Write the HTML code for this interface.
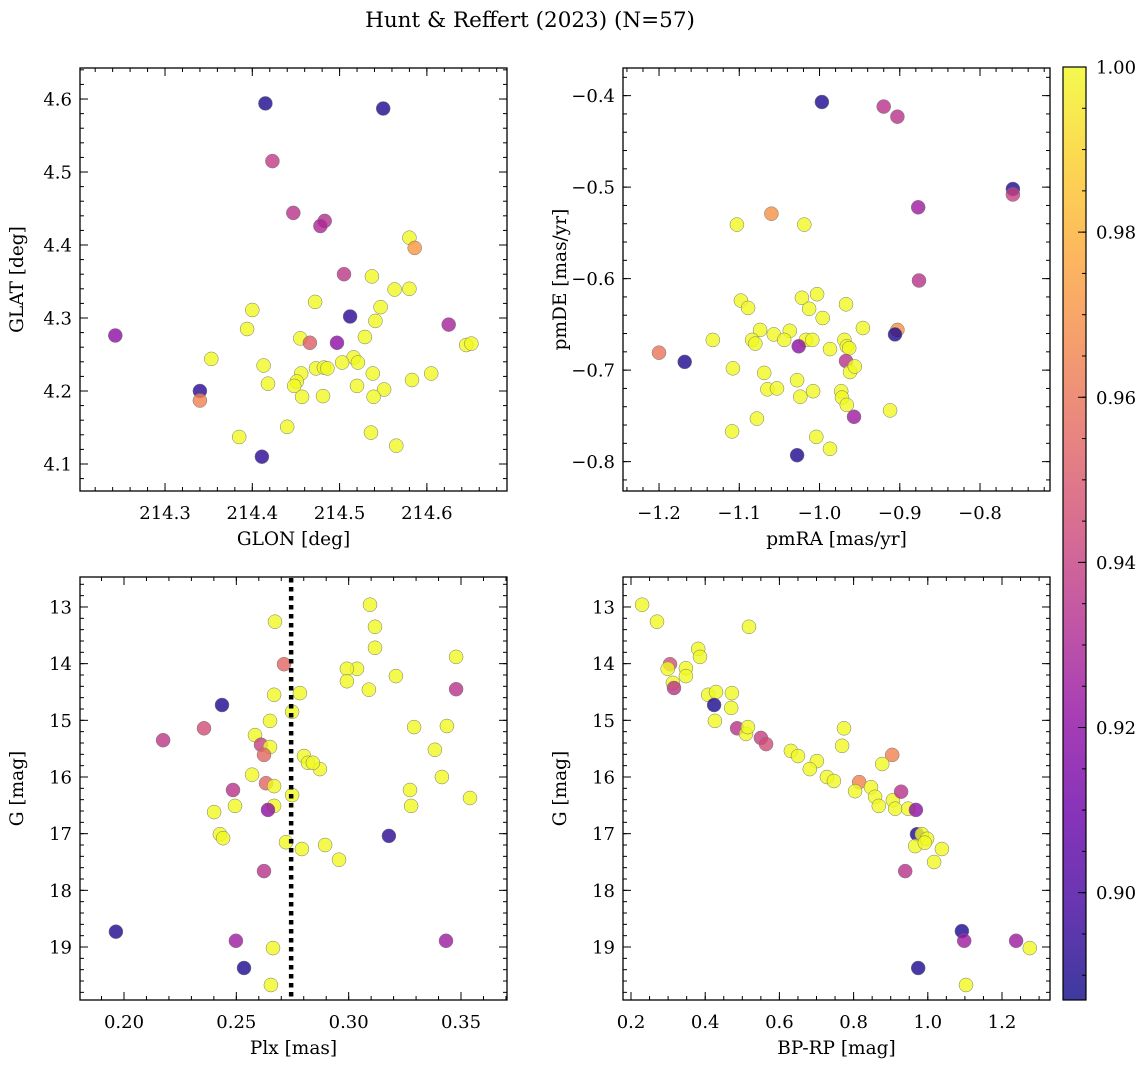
<!DOCTYPE html>
<html><head><meta charset="utf-8">
<style>
html,body{margin:0;padding:0;background:#fff;}
svg{display:block;font-family:"DejaVu Serif","Liberation Serif",serif;}
</style></head>
<body>
<svg id="fig" width="1148" height="1067" viewBox="0 0 1148 1067" xmlns="http://www.w3.org/2000/svg">
<text x="530" y="27" font-size="21.5" text-anchor="middle">Hunt &amp; Reffert (2023) (N=57)</text>
</svg>
<script>
// ---- Data: top-left (GLON vs GLAT) ----
const glonTL = [214.243,214.415,214.550,214.423,214.447,214.483,214.478,214.580,214.586,214.505,214.537,214.563,214.580,214.472,214.547,214.512,214.541,214.400,214.625,214.394,214.529,214.455,214.466,214.497,214.645,214.651,214.353,214.516,214.521,214.413,214.503,214.473,214.482,214.486,214.538,214.456,214.451,214.605,214.448,214.418,214.520,214.551,214.340,214.539,214.457,214.481,214.340,214.440,214.385,214.536,214.565,214.411,214.583];
const glatTL = [4.276,4.594,4.587,4.515,4.444,4.433,4.426,4.410,4.396,4.360,4.357,4.339,4.340,4.322,4.315,4.302,4.296,4.311,4.291,4.285,4.274,4.272,4.266,4.266,4.263,4.265,4.244,4.246,4.239,4.235,4.239,4.231,4.232,4.231,4.224,4.224,4.213,4.224,4.207,4.210,4.207,4.202,4.200,4.192,4.192,4.193,4.187,4.151,4.137,4.143,4.125,4.110,4.215];
const probTL = [0.920,0.890,0.890,0.938,0.935,0.933,0.930,1,0.972,0.937,1,1,1,1,1,0.893,1,1,0.928,1,1,1,0.952,0.920,1,1,1,1,1,1,1,1,1,1,1,1,1,1,1,1,1,1,0.893,1,1,1,0.965,1,1,1,1,0.893,1];
// ---- Data: top-right (pmRA vs pmDE) ----
const pmraTR = [-0.997,-0.920,-0.903,-0.759,-0.759,-0.877,-0.876,-1.103,-1.060,-1.019,-1.200,-1.168,-1.133,-1.108,-1.098,-1.089,-1.022,-1.003,-0.967,-0.996,-1.013,-1.074,-1.057,-1.037,-1.017,-1.009,-1.044,-1.026,-1.084,-1.080,-0.987,-0.969,-0.966,-0.963,-0.946,-0.903,-0.906,-0.967,-0.962,-0.956,-1.069,-1.028,-1.065,-1.053,-1.008,-0.973,-0.972,-0.966,-1.078,-1.024,-0.957,-0.912,-1.109,-1.004,-0.987,-1.028];
const pmdeTR = [-0.407,-0.412,-0.423,-0.502,-0.508,-0.522,-0.602,-0.541,-0.529,-0.541,-0.681,-0.691,-0.667,-0.698,-0.624,-0.632,-0.621,-0.617,-0.628,-0.643,-0.633,-0.656,-0.661,-0.657,-0.667,-0.667,-0.667,-0.674,-0.667,-0.671,-0.677,-0.667,-0.674,-0.676,-0.654,-0.656,-0.661,-0.690,-0.702,-0.696,-0.703,-0.711,-0.721,-0.720,-0.723,-0.723,-0.730,-0.738,-0.753,-0.729,-0.751,-0.744,-0.767,-0.773,-0.786,-0.793];
const probTR = [0.890,0.935,0.935,0.890,0.940,0.925,0.935,1,0.970,1,0.960,0.890,1,1,1,1,1,1,1,1,1,1,1,1,1,1,1,0.920,1,1,1,1,1,1,1,0.970,0.890,0.935,1,1,1,1,1,1,1,1,1,1,1,1,0.925,1,1,1,1,0.890];
// ---- Data: bottom-left (Plx vs G) ----
const plxBL = [0.1964,0.2174,0.2356,0.2436,0.2672,0.2712,0.2668,0.2783,0.2748,0.2650,0.2583,0.2610,0.2650,0.2623,0.2801,0.2570,0.2632,0.2668,0.2485,0.2748,0.2872,0.2819,0.2841,0.2668,0.2494,0.2641,0.2401,0.2427,0.2441,0.2721,0.2792,0.2895,0.2957,0.3179,0.2623,0.2498,0.2534,0.2663,0.2654,0.3433,0.3095,0.3117,0.3117,0.3037,0.2992,0.2992,0.3090,0.3210,0.3478,0.3478,0.3291,0.3437,0.3384,0.3415,0.3273,0.3278,0.3540];
const gBL = [18.73,15.35,15.14,14.73,13.26,14.01,14.55,14.52,14.85,15.01,15.26,15.43,15.47,15.61,15.63,15.96,16.11,16.16,16.23,16.32,15.86,15.75,15.75,16.51,16.51,16.58,16.62,17.01,17.08,17.15,17.27,17.20,17.46,17.04,17.66,18.89,19.37,19.02,19.67,18.89,12.96,13.35,13.72,14.09,14.09,14.31,14.46,14.22,13.88,14.45,15.12,15.10,15.52,16.00,16.23,16.51,16.37];
const probBL = [0.890,0.937,0.945,0.890,1,0.955,1,1,1,1,1,0.940,1,0.955,1,1,0.955,1,0.935,1,1,1,1,1,1,0.920,1,1,1,1,1,1,1,0.893,0.935,0.925,0.890,1,1,0.925,1,1,1,1,1,1,1,1,1,0.935,1,1,1,1,1,1,1];
const plxRef = [0.2744];
// ---- Data: bottom-right (BP-RP vs G) ----
const bprpBR = [0.230,0.270,0.518,0.305,0.299,0.313,0.316,0.348,0.348,0.381,0.386,0.408,0.429,0.424,0.426,0.470,0.472,0.486,0.510,0.515,0.550,0.564,0.631,0.650,0.701,0.682,0.728,0.747,0.769,0.774,0.904,0.815,0.804,0.847,0.858,0.877,0.868,0.906,0.912,0.928,0.947,0.968,0.971,0.966,0.984,0.998,0.992,1.038,1.017,0.939,0.974,1.092,1.098,1.238,1.275,1.103];
const gBR = [12.96,13.26,13.35,14.01,14.09,14.34,14.43,14.08,14.22,13.74,13.88,14.55,14.50,14.73,15.01,14.78,14.52,15.14,15.24,15.12,15.31,15.42,15.54,15.63,15.72,15.86,16.00,16.07,15.45,15.14,15.61,16.09,16.25,16.18,16.35,15.77,16.51,16.41,16.56,16.26,16.56,16.58,17.01,17.22,17.01,17.09,17.16,17.27,17.50,17.66,19.37,18.72,18.89,18.89,19.02,19.67];
const probBR = [1,1,1,0.945,1,1,0.935,1,1,1,1,1,1,0.890,1,1,1,0.935,1,1,0.940,0.945,1,1,1,1,1,1,1,1,0.965,0.965,1,1,1,1,1,1,1,0.935,1,0.920,0.890,1,1,1,1,1,1,0.935,0.890,0.890,0.925,0.925,1,1];
// ---- Tick labels ----
const ticksTLx = [214.3,214.4,214.5,214.6];
const ticksTLy = [4.1,4.2,4.3,4.4,4.5,4.6];
const ticksTRx = [-1.2,-1.1,-1.0,-0.9,-0.8];
const ticksTRy = [-0.8,-0.7,-0.6,-0.5,-0.4];
const ticksBLx = [0.20,0.25,0.30,0.35];
const ticksGy = [13,14,15,16,17,18,19];
const ticksBRx = [0.2,0.4,0.6,0.8,1.0,1.2];
const ticksCbar = [0.90,0.92,0.94,0.96,0.98,1.00];
const cbarRange = [0.887,1.0];

const FS=18, LFS=18.5;
const NS='http://www.w3.org/2000/svg';
const svg=document.getElementById('fig');
function mk(tag,attrs,parent){const e=document.createElementNS(NS,tag);for(const k in attrs)e.setAttribute(k,attrs[k]);(parent||svg).appendChild(e);return e;}
const stops=[[0,[13,8,135]],[0.1,[65,4,157]],[0.2,[106,0,168]],[0.3,[143,13,164]],[0.4,[177,42,144]],[0.5,[204,71,120]],[0.6,[225,100,98]],[0.7,[242,132,75]],[0.8,[252,166,54]],[0.9,[252,206,37]],[1,[240,249,33]]];
function plasma(t){t=Math.max(0,Math.min(1,t));for(let i=1;i<stops.length;i++){if(t<=stops[i][0]){const a=stops[i-1],b=stops[i];const f=(t-a[0])/(b[0]-a[0]);const c=a[1].map((v,j)=>Math.round(v+(b[1][j]-v)*f));return 'rgb('+c.join(',')+')';}}return 'rgb(240,249,33)';}
function pcol(p){return plasma((p-cbarRange[0])/(cbarRange[1]-cbarRange[0]));}
function fmt(v,d){let s=v.toFixed(d);return s.replace('-','\u2212');}

function panel(name,box,xd,yd,yInv,xt,xdec,xminor,yt,ydec,yminor,xlabel,ylabel,xs,ys,ps){
  const g=mk('g',{});
  
  
  const [L,T,R,B]=box;
  const X=v=>L+(v-xd[0])/(xd[1]-xd[0])*(R-L);
  const Y=v=>yInv? T+(v-yd[0])/(yd[1]-yd[0])*(B-T) : B-(v-yd[0])/(yd[1]-yd[0])*(B-T);
  const pts=mk('g',{},g);
  
  
  for(let i=0;i<xs.length;i++){
    const c=mk('circle',{cx:X(xs[i]).toFixed(1),cy:Y(ys[i]).toFixed(1),r:7,fill:pcol(ps[i]),'fill-opacity':0.8,stroke:'#777','stroke-width':0.5},pts);
    
    
  }
  const fr=mk('rect',{x:L,y:T,width:R-L,height:B-T,fill:'none',stroke:'#000','stroke-width':1.3},g);
  
  
  const tk=mk('g',{stroke:'#000','stroke-width':1},g);
  const xlo=Math.min(xd[0],xd[1]),xhi=Math.max(xd[0],xd[1]);
  for(let k=Math.ceil(xlo/xminor-1e-6);k*xminor<=xhi+1e-9;k++){const v=k*xminor,x=X(v);mk('line',{x1:x,y1:B,x2:x,y2:B-4},tk);mk('line',{x1:x,y1:T,x2:x,y2:T+4},tk);}
  const ylo=Math.min(yd[0],yd[1]),yhi=Math.max(yd[0],yd[1]);
  for(let k=Math.ceil(ylo/yminor-1e-6);k*yminor<=yhi+1e-9;k++){const v=k*yminor,y=Y(v);mk('line',{x1:L,y1:y,x2:L+4,y2:y},tk);mk('line',{x1:R,y1:y,x2:R-4,y2:y},tk);}
  xt.forEach(v=>{const x=X(v);mk('line',{x1:x,y1:B,x2:x,y2:B-8},tk);mk('line',{x1:x,y1:T,x2:x,y2:T+8},tk);
    const t=mk('text',{x:x,y:B+28,'font-size':FS,'text-anchor':'middle'},g);t.textContent=fmt(v,xdec);
    
    });
  yt.forEach(v=>{const y=Y(v);mk('line',{x1:L,y1:y,x2:L+8,y2:y},tk);mk('line',{x1:R,y1:y,x2:R-8,y2:y},tk);
    const t=mk('text',{x:L-8,y:y+6.5,'font-size':FS,'text-anchor':'end'},g);t.textContent=fmt(v,ydec);
    
    });
  const xl=mk('text',{x:(L+R)/2,y:B+54,'font-size':LFS,'text-anchor':'middle'},g);xl.textContent=xlabel;
  
  
  const yx=L-57;
  const yl=mk('text',{x:yx,y:(T+B)/2,'font-size':LFS,'text-anchor':'middle',transform:'rotate(-90 '+yx+' '+(T+B)/2+')'},g);yl.textContent=ylabel;
  
  
  return {X,Y,g,T,B};
}
panel('glon-glat-panel',[80,68,507,491],[214.2026,214.6918],[4.0630,4.6425],false,ticksTLx,1,0.02,ticksTLy,1,0.02,'GLON [deg]','GLAT [deg]',glonTL,glatTL,probTL);
panel('pm-panel',[623,68,1050,491],[-1.2449,-0.7128],[-0.8321,-0.3698],false,ticksTRx,1,0.02,ticksTRy,1,0.02,'pmRA [mas/yr]','pmDE [mas/yr]',pmraTR,pmdeTR,probTR);
const bl=panel('plx-g-panel',[80,577,507,1000],[0.18042,0.37047],[12.471,19.935],true,ticksBLx,2,0.01,ticksGy,0,0.2,'Plx [mas]','G [mag]',plxBL,gBL,probBL);
plxRef.forEach(v=>{const x=bl.X(v);const ln=mk('line',{x1:x,y1:bl.T+1,x2:x,y2:bl.B-1,stroke:'#000','stroke-width':4.5,'stroke-dasharray':'4.5 4.5'},bl.g);
  
  });
panel('cmd-panel',[623,577,1050,1000],[0.1784,1.3294],[12.471,19.935],true,ticksBRx,1,0.05,ticksGy,0,0.2,'BP-RP [mag]','G [mag]',bprpBR,gBR,probBR);

(function(){
  const L=1063,R=1086,T=67,B=1000;
  const cb=mk('g',{});
  
  
  const defs=mk('defs',{},cb);
  const lg=mk('linearGradient',{id:'cbg',x1:0,y1:1,x2:0,y2:0},defs);
  stops.forEach(s=>mk('stop',{offset:s[0],'stop-color':plasma(s[0]),'stop-opacity':0.8},lg));
  mk('rect',{x:L,y:T,width:R-L,height:B-T,fill:'url(#cbg)',stroke:'#000','stroke-width':1.2},cb);
  const Y=v=>B-(v-cbarRange[0])/(cbarRange[1]-cbarRange[0])*(B-T);
  for(let k=Math.ceil(cbarRange[0]/0.005-1e-6);k*0.005<=cbarRange[1]+1e-9;k++){const y=Y(k*0.005);mk('line',{x1:R,y1:y,x2:R-4,y2:y,stroke:'#000','stroke-width':1},cb);}
  ticksCbar.forEach(v=>{const y=Y(v);mk('line',{x1:R,y1:y,x2:R-8,y2:y,stroke:'#000','stroke-width':1},cb);
    const t=mk('text',{x:R+10,y:y+6.5,'font-size':FS},cb);t.textContent=v.toFixed(2);
    
    });
})();
</script>
</body></html>
